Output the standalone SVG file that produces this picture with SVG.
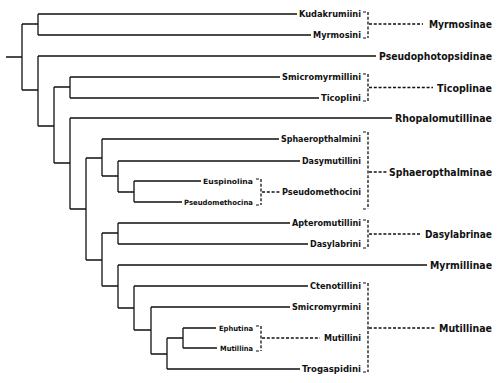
<svg xmlns="http://www.w3.org/2000/svg" width="500" height="383" viewBox="0 0 500 383">
<style>
.t{fill:none;stroke:#111;stroke-width:1.3}
.d{fill:none;stroke:#111;stroke-width:1.3;stroke-dasharray:3 1.8}
.k{fill:none;stroke:#111;stroke-width:1.2}
text{font-family:"DejaVu Sans Condensed","DejaVu Sans",sans-serif;font-weight:bold;fill:#111;text-anchor:end}
.l{font-size:8.6px}
.s{font-size:7.2px}
.f{font-size:10.8px}
</style>
<rect width="500" height="383" fill="#fff"/>
<g id="connectors">
<path class="t" d="M6,57H22M22,24V90M22,24H38M22,90H38M38,14V35M38,14H297M38,35H311M38,56V126M38,56H376M38,126H54M54,87V163M54,87H70M70,77V98M70,77H280M70,98H319M54,163H70M70,118V209M70,118H392M70,209H86M86,158V260M86,158H102M102,139V176M102,139H279M102,176H118M118,161V192M118,161H300M118,192H134M134,181V202M134,181H201M134,202H182M86,260H102M102,233V286M102,233H118M118,223V244M118,223H290M118,244H308M102,286H118M118,265V308M118,265H427M118,308H134M134,286V330M134,286H308M134,330H151M151,307V354M151,307H290M151,354H167M167,338V369M167,369H300M167,338H183M183,328V348M183,328H216M183,348H217"/>
<g id="brackets">
<path class="d" d="M368,12V38M369,24H423"/>
<path class="k" d="M363,12H366M363,38H366"/>
<path class="d" d="M368,74V101M369,87.5H433"/>
<path class="k" d="M363,74H366M363,101H366"/>
<path class="d" d="M368,132V209M369,172H387"/>
<path class="k" d="M363,132H366M363,209H366"/>
<path class="d" d="M261,179V205M262,192H280"/>
<path class="k" d="M256,179H259M256,205H259"/>
<path class="d" d="M368,220V248M369,234H421"/>
<path class="k" d="M363,220H366M363,248H366"/>
<path class="d" d="M368,283V372M369,328H435"/>
<path class="k" d="M363,283H366M363,372H366"/>
<path class="d" d="M261,326V351M262,338H320"/>
<path class="k" d="M256,326H259M256,351H259"/>
</g>
</g>
<g id="n-kudakrumiini"><text class="l" x="361" y="17" textLength="62" lengthAdjust="spacingAndGlyphs">Kudakrumiini</text></g>
<g id="n-myrmosini"><text class="l" x="361" y="38" textLength="48" lengthAdjust="spacingAndGlyphs">Myrmosini</text></g>
<g id="n-myrmosinae"><text class="f" x="492" y="28" textLength="63" lengthAdjust="spacingAndGlyphs">Myrmosinae</text></g>
<g id="n-pseudophotopsidinae"><text class="f" x="492" y="60" textLength="113" lengthAdjust="spacingAndGlyphs">Pseudophotopsidinae</text></g>
<g id="n-smicromyrmillini"><text class="l" x="361" y="80" textLength="79" lengthAdjust="spacingAndGlyphs">Smicromyrmillini</text></g>
<g id="n-ticoplini"><text class="l" x="361" y="101" textLength="40" lengthAdjust="spacingAndGlyphs">Ticoplini</text></g>
<g id="n-ticoplinae"><text class="f" x="492" y="91.5" textLength="55" lengthAdjust="spacingAndGlyphs">Ticoplinae</text></g>
<g id="n-rhopalomutillinae"><text class="f" x="492" y="122" textLength="97" lengthAdjust="spacingAndGlyphs">Rhopalomutillinae</text></g>
<g id="n-sphaeropthalmini"><text class="l" x="361" y="142" textLength="80" lengthAdjust="spacingAndGlyphs">Sphaeropthalmini</text></g>
<g id="n-dasymutillini"><text class="l" x="361" y="164" textLength="59" lengthAdjust="spacingAndGlyphs">Dasymutillini</text></g>
<g id="n-euspinolina"><text class="s" x="253" y="183.5" textLength="50" lengthAdjust="spacingAndGlyphs">Euspinolina</text></g>
<g id="n-pseudomethocina"><text class="s" x="253" y="204.5" textLength="69" lengthAdjust="spacingAndGlyphs">Pseudomethocina</text></g>
<g id="n-pseudomethocini"><text class="l" x="361" y="195" textLength="79" lengthAdjust="spacingAndGlyphs">Pseudomethocini</text></g>
<g id="n-sphaeropthalminae"><text class="f" x="492" y="176" textLength="103" lengthAdjust="spacingAndGlyphs">Sphaeropthalminae</text></g>
<g id="n-apteromutillini"><text class="l" x="361" y="226" textLength="69" lengthAdjust="spacingAndGlyphs">Apteromutillini</text></g>
<g id="n-dasylabrini"><text class="l" x="361" y="247" textLength="51" lengthAdjust="spacingAndGlyphs">Dasylabrini</text></g>
<g id="n-dasylabrinae"><text class="f" x="492" y="238" textLength="67" lengthAdjust="spacingAndGlyphs">Dasylabrinae</text></g>
<g id="n-myrmillinae"><text class="f" x="492" y="269" textLength="62" lengthAdjust="spacingAndGlyphs">Myrmillinae</text></g>
<g id="n-ctenotillini"><text class="l" x="361" y="289" textLength="51" lengthAdjust="spacingAndGlyphs">Ctenotillini</text></g>
<g id="n-smicromyrmini"><text class="l" x="361" y="310" textLength="69" lengthAdjust="spacingAndGlyphs">Smicromyrmini</text></g>
<g id="n-ephutina"><text class="s" x="253" y="330.5" textLength="34" lengthAdjust="spacingAndGlyphs">Ephutina</text></g>
<g id="n-mutillina"><text class="s" x="253" y="350.5" textLength="33" lengthAdjust="spacingAndGlyphs">Mutillina</text></g>
<g id="n-mutillini"><text class="l" x="361" y="341" textLength="37" lengthAdjust="spacingAndGlyphs">Mutillini</text></g>
<g id="n-mutillinae"><text class="f" x="492" y="332" textLength="53" lengthAdjust="spacingAndGlyphs">Mutillinae</text></g>
<g id="n-trogaspidini"><text class="l" x="361" y="372" textLength="59" lengthAdjust="spacingAndGlyphs">Trogaspidini</text></g>
</svg>
